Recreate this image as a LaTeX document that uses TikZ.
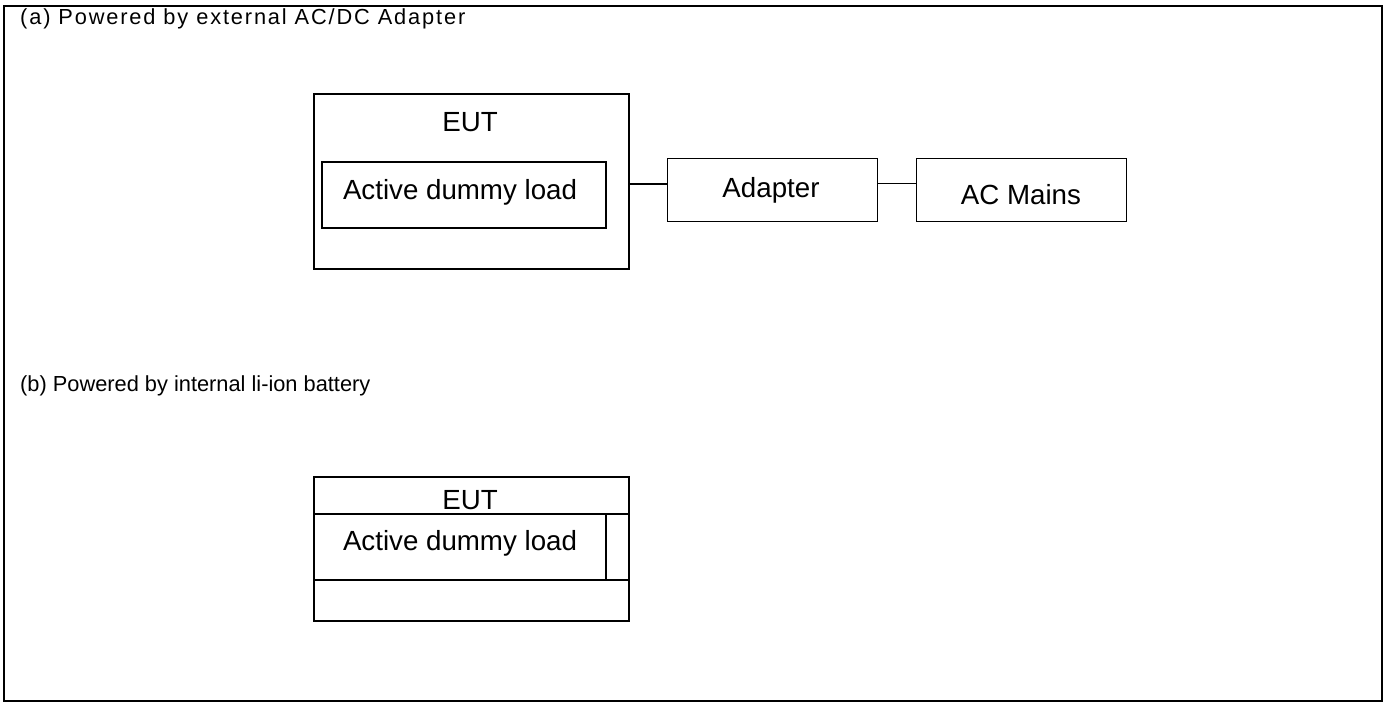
\documentclass[tikz,border=0pt]{standalone}
\usepackage{fontspec}
\setmainfont{Liberation Sans}
\newfontfamily\spacedfont[LetterSpace=8.5]{Liberation Sans}
\begin{document}
\begin{tikzpicture}[x=1pt,y=-1pt,
  box/.style={draw=black,line width=1.3pt,rectangle,inner sep=0pt},
  thinbox/.style={draw=black,line width=1pt,rectangle,inner sep=0pt},
  big/.style={font=\fontsize{27.7}{33}\selectfont,inner sep=0pt},
  lab/.style={font=\fontsize{21.8}{26}\selectfont,inner sep=0pt,anchor=west},
  wire/.style={draw=black,line width=1.3pt},
  thinwire/.style={draw=black,line width=1pt}]
\useasboundingbox (0,0) rectangle (1385,703);
\fill[white] (0,0) rectangle (1385,703);
\node[draw=black,line width=1.6pt,minimum width=1378pt,minimum height=695pt,inner sep=0pt] (frame) at (693,353.5) {};
% (a)
\node[lab,font=\fontsize{21.8}{26}\spacedfont] (la) at (20,19) {(a) Powered by external AC/DC Adapter};
\node[box,minimum width=315pt,minimum height=175pt] (eutA) at (471.5,181.5) {};
\node[big] (eutAt) at (470,122) {EUT};
\node[box,minimum width=284pt,minimum height=66pt] (loadA) at (464,195) {};
\node[big] (loadAt) at (460,192) {Active dummy load};
\node[thinbox,minimum width=210pt,minimum height=63pt] (adapter) at (772,190.5) {};
\node[big] (adaptert) at (771,190) {Adapter};
\node[thinbox,minimum width=210pt,minimum height=63pt] (mains) at (1021,190.5) {};
\node[big] (mainst) at (1021,195) {AC Mains};
\draw[wire] (eutA.east |- 0,184) -- (adapter.west |- 0,184);
\draw[thinwire] (adapter.east |- 0,184) -- (mains.west |- 0,184);
% (b)
\node[lab] (lb) at (20,386) {(b) Powered by internal li-ion battery};
\node[box,minimum width=315pt,minimum height=144pt] (eutB) at (471.5,549) {};
\node[big] (eutBt) at (470,500) {EUT};
\coordinate (bl1) at (314,514);
\coordinate (br1) at (629,514);
\coordinate (bl2) at (314,580);
\coordinate (br2) at (629,580);
\coordinate (bv1) at (606,514);
\coordinate (bv2) at (606,580);
\draw[wire] (bl1) -- (br1);
\draw[wire] (bl2) -- (br2);
\draw[wire] (bv1) -- (bv2);
\node[big] (loadBt) at (460,543) {Active dummy load};
\end{tikzpicture}
\end{document}
